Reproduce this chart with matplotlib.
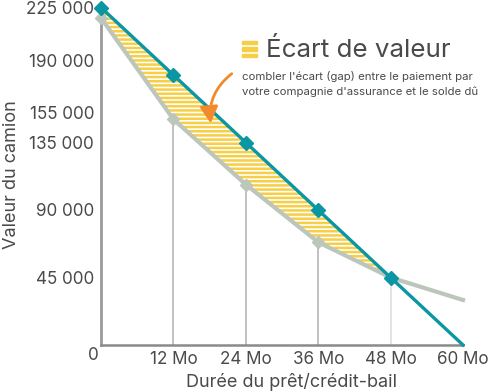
import numpy as np
import matplotlib.pyplot as plt
from matplotlib.patches import FancyArrowPatch

# donnees
mois = [0, 12, 24, 36, 48, 60]
solde_du = [225000, 180000, 135000, 90000, 45000, 0]
valeur_camion = [218000, 150500, 107000, 68500, 45000, 30000]
yticks = [45000, 90000, 135000, 155000, 190000, 225000]
ytick_labels = ['45 000', '90 000', '135 000', '155 000', '190 000', '225 000']
xticks = [12, 24, 36, 48, 60]
xtick_labels = ['12 Mo', '24 Mo', '36 Mo', '48 Mo', '60 Mo']

TEAL = '#0a96a2'
GRIS = '#bcc6bb'
JAUNE = '#f6cf46'
TEXTE = '#4a4a4a'

plt.rcParams['font.family'] = ['Inter', 'DejaVu Sans']
plt.rcParams['hatch.linewidth'] = 1.8

fig = plt.figure(figsize=(4.93, 3.92), dpi=100)
ax = fig.add_axes([101 / 493, 1 - 345 / 392, 362 / 493, 345 / 392])
ax.set_xlim(0, 60)
ax.set_ylim(0, 230000)

# zone d'ecart hachuree
m = np.array(mois[:5])
ax.fill_between(m, valeur_camion[:5], solde_du[:5], facecolor='white',
                edgecolor=JAUNE, hatch='----', linewidth=0, zorder=1)

# lignes verticales
for i, x in enumerate(mois[1:5]):
    c = '#dcdcdc' if x == 48 else '#b0b0b0'
    ax.plot([x, x], [0, valeur_camion[i + 1]], color=c, lw=1.1, zorder=0.5)
ax.plot([0, 0], [0, valeur_camion[0]], color='#9a9a9a', lw=2, zorder=2,
        clip_on=False)
ax.plot([0, 60], [0, 0], color='#8a8a8a', lw=1.8, zorder=2, clip_on=False)

ax.plot(mois, valeur_camion, color=GRIS, lw=3, zorder=3, clip_on=False)
ax.plot(mois[:4], valeur_camion[:4], 'D', color=GRIS, ms=6.5, zorder=3,
        clip_on=False)
ax.plot(mois, solde_du, color=TEAL, lw=2.4, zorder=4, clip_on=False)
ax.plot(mois[:5], solde_du[:5], 'D', color=TEAL, ms=7, zorder=4,
        clip_on=False)

for s in ax.spines.values():
    s.set_visible(False)
ax.set_yticks(yticks, ytick_labels)
ax.set_xticks(xticks, xtick_labels)
ax.tick_params(length=0, labelsize=12.3, colors=TEXTE)
ax.tick_params(axis='y', pad=5)
ax.tick_params(axis='x', pad=4)
fig.text(93 / 493, 1 - 355 / 392, '0', ha='center', va='center',
         fontsize=12.3, color=TEXTE)

fig.text(12 / 493, 1 - 175 / 392, 'Valeur du camion', rotation=90,
         ha='center', va='center', fontsize=13, color=TEXTE)
fig.text(292 / 493, 1 - 382 / 392, 'Durée du prêt/crédit-bail', ha='center',
         va='center', fontsize=13, color=TEXTE)

# legende
for k in range(3):
    fig.patches.append(plt.Rectangle((242 / 493, 1 - (41 + k * 6.5 + 3) / 392),
                                     15 / 493, 3 / 392, color=JAUNE,
                                     transform=fig.transFigure))
fig.text(266 / 493, 1 - 50 / 392, 'Écart de valeur', ha='left', va='center',
         fontsize=18.7, color=TEXTE)
fig.text(242 / 493, 1 - 77 / 392, "combler l'écart (gap) entre le paiement par",
         ha='left', va='center', fontsize=8.2, color=TEXTE)
fig.text(242 / 493, 1 - 92 / 392, "votre compagnie d'assurance et le solde dû",
         ha='left', va='center', fontsize=8.2, color=TEXTE)

fleche = FancyArrowPatch((234 / 493, 1 - 72 / 392), (211 / 493, 1 - 126 / 392),
                         transform=fig.transFigure,
                         connectionstyle='arc3,rad=0.3',
                         arrowstyle='-|>,head_length=10,head_width=5.5',
                         color='#f28a2c', lw=2)
fig.patches.append(fleche)

fig.savefig('out.png', dpi=100)
